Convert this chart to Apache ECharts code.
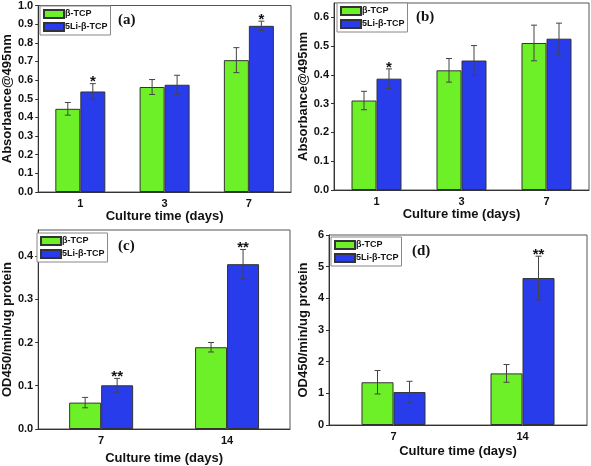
<!DOCTYPE html>
<html><head><meta charset="utf-8">
<script src="https://cdn.jsdelivr.net/npm/echarts@6/dist/echarts.min.js"></script>
<style>html,body{margin:0;padding:0;background:#fff}#c{width:591px;height:466px}</style>
</head><body><div id="c"></div>
<script>
// ---- data ----
const seriesNames = ['β-TCP', '5Li-β-TCP'];
const catsAB = ['1', '3', '7'];
const catsCD = ['7', '14'];

const tcpA = [0.446, 0.563, 0.707];
const tcpAErr = [0.034, 0.040, 0.067];
const liA = [0.539, 0.575, 0.891];
const liAErr = [0.042, 0.051, 0.025];
const sigA = ['*', '', '*'];

const tcpB = [0.311, 0.416, 0.511];
const tcpBErr = [0.032, 0.041, 0.062];
const liB = [0.387, 0.450, 0.526];
const liBErr = [0.034, 0.052, 0.054];
const sigB = ['*', '', ''];

const tcpC = [0.061, 0.189];
const tcpCErr = [0.012, 0.011];
const liC = [0.101, 0.381];
const liCErr = [0.016, 0.034];
const sigC = ['**', '**'];

const tcpD = [1.35, 1.63];
const tcpDErr = [0.37, 0.28];
const liD = [1.04, 4.64];
const liDErr = [0.34, 0.69];
const sigD = ['', '**'];

const yTicksB = [0, 0.1, 0.2, 0.3, 0.4, 0.5, 0.6];
const yTicksC = [0, 0.1, 0.2, 0.3, 0.4];

// ---- styling ----
const GREEN = '#6ef028';
const BLUE = '#283ceb';
const FONT = 'Liberation Sans, Arial, sans-serif';

const panels = [
  {cats: catsAB, s: [tcpA, liA], e: [tcpAErr, liAErr], sig: sigA, bw: 25,
   grid: {left: 37, top: 5, width: 254, height: 187},
   y: {min: 0, max: 1.0, interval: 0.1, dec: 1, name: 'Absorbance@495nm', gap: 22},
   xGap: 14, label: '(a)', lpos: [118, 13], leg: [40, 6]},
  {cats: catsAB, s: [tcpB, liB], e: [tcpBErr, liBErr], sig: sigB, bw: 25,
   grid: {left: 334, top: 3, width: 255, height: 187},
   y: {min: 0, max: 0.65, interval: 0.1, dec: 1, name: 'Absorbance@495nm', gap: 24, custom: yTicksB},
   xGap: 16, label: '(b)', lpos: [416, 10], leg: [337, 3]},
  {cats: catsCD, s: [tcpC, liC], e: [tcpCErr, liCErr], sig: sigC, bw: 32,
   grid: {left: 34, top: 230, width: 256, height: 199},
   y: {min: 0, max: 0.46, interval: 0.1, dec: 1, name: 'OD450/min/ug protein', gap: 20, custom: yTicksC},
   xGap: 23, label: '(c)', lpos: [118, 239], leg: [37, 233]},
  {cats: catsCD, s: [tcpD, liD], e: [tcpDErr, liDErr], sig: sigD, bw: 32,
   grid: {left: 329, top: 235, width: 258, height: 190},
   y: {min: 0, max: 6, interval: 1, dec: 0, name: 'OD450/min/ug protein', gap: 19},
   xGap: 20, label: '(d)', lpos: [412, 244], leg: [331, 237]}
];

const option = {
  animation: false,
  backgroundColor: '#fff',
  textStyle: {fontFamily: FONT},
  grid: [], xAxis: [], yAxis: [], series: [], legend: [], title: []
};

panels.forEach((p, gi) => {
  option.grid.push(Object.assign({show: true, borderColor: '#555', borderWidth: 1, backgroundColor: '#fff', containLabel: false}, p.grid));
  option.xAxis.push({
    type: 'category', gridIndex: gi, data: p.cats, boundaryGap: true,
    axisLine: {lineStyle: {color: '#333', width: 1}},
    axisTick: {alignWithLabel: true, length: 4, lineStyle: {color: '#333'}},
    axisLabel: {color: '#111', fontWeight: 'bold', fontSize: 11, margin: 6, fontFamily: FONT},
    name: 'Culture time (days)', nameLocation: 'middle', nameGap: p.xGap,
    nameTextStyle: {color: '#111', fontWeight: 'bold', fontSize: 13, fontFamily: FONT, verticalAlign: 'top'}
  });
  const ya = {
    type: 'value', gridIndex: gi, min: p.y.min, max: p.y.max, interval: p.y.interval,
    splitLine: {show: false},
    axisLine: {show: true, lineStyle: {color: '#333', width: 1}},
    axisTick: {show: true, length: 3, lineStyle: {color: '#333'}},
    axisLabel: {color: '#111', fontWeight: 'bold', fontSize: 11, margin: 5, fontFamily: FONT,
      formatter: v => v.toFixed(p.y.dec)},
    name: p.y.name, nameLocation: 'middle', nameGap: p.y.gap, nameRotate: 90,
    nameTextStyle: {color: '#111', fontWeight: 'bold', fontSize: 13, fontFamily: FONT}
  };
  if (p.y.custom) {
    ya.axisLabel.customValues = p.y.custom;
    ya.axisTick.customValues = p.y.custom;
  }
  option.yAxis.push(ya);

  [0, 1].forEach(k => {
    option.series.push({
      type: 'bar', name: seriesNames[k], xAxisIndex: gi, yAxisIndex: gi,
      data: p.s[k], barWidth: p.bw, barGap: '0%',
      itemStyle: {color: k === 0 ? GREEN : BLUE, borderColor: '#333', borderWidth: 1}
    });
  });
  [0, 1].forEach(k => {
    const off = (k === 0 ? -1 : 1) * p.bw / 2;
    const data = p.s[k].map((v, i) => [i, v - p.e[k][i], v + p.e[k][i], k === 1 ? p.sig[i] : '']);
    option.series.push({
      type: 'custom', name: 'err' + gi + k, xAxisIndex: gi, yAxisIndex: gi, z: 5,
      data: data, clip: false,
      renderItem: (params, api) => {
        const idx = api.value(0);
        const lo = api.coord([idx, api.value(1)]);
        const hi = api.coord([idx, api.value(2)]);
        const x = lo[0] + off;
        const cw = 3;
        const ls = {stroke: '#444', lineWidth: 1};
        const ch = [
          {type: 'line', shape: {x1: x, y1: lo[1], x2: x, y2: hi[1]}, style: ls},
          {type: 'line', shape: {x1: x - cw, y1: lo[1], x2: x + cw, y2: lo[1]}, style: ls},
          {type: 'line', shape: {x1: x - cw, y1: hi[1], x2: x + cw, y2: hi[1]}, style: ls}
        ];
        const s = data[params.dataIndex][3];
        if (s) {
          ch.push({type: 'text', x: x, y: hi[1] + 6, style: {text: s, fill: '#111', font: 'bold 15px ' + FONT, align: 'center', verticalAlign: 'bottom'}});
        }
        return {type: 'group', children: ch};
      }
    });
  });
  option.legend.push({
    data: seriesNames, orient: 'vertical', left: p.leg[0], top: p.leg[1],
    itemWidth: 20, itemHeight: 8, itemGap: 3, padding: [3, 3, 3, 3],
    borderColor: '#888', borderWidth: 1, backgroundColor: '#fff',
    icon: 'rect', selectedMode: false,
    textStyle: {fontSize: 9, fontWeight: 'bold', color: '#111', fontFamily: FONT, padding: [0, 0, 0, -4]}
  });
  option.title.push({
    text: p.label, left: p.lpos[0], top: p.lpos[1], padding: 0,
    textStyle: {fontFamily: 'Liberation Serif, Times New Roman, serif', fontWeight: 'bold', fontSize: 15, color: '#111'}
  });
});

const chart = echarts.init(document.getElementById('c'), null, {renderer: 'canvas'});
chart.setOption(option);
</script>
</body></html>
